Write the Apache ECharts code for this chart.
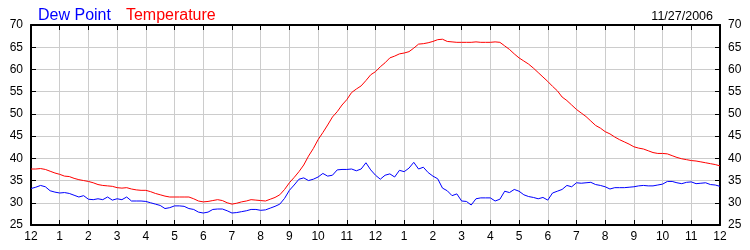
<!DOCTYPE html>
<html><head><meta charset="utf-8">
<script src="https://cdn.jsdelivr.net/npm/echarts@6/dist/echarts.min.js"></script>
<style>html,body{margin:0;padding:0;background:#fff}#c{width:750px;height:250px}</style>
</head><body><div id="c"></div>
<script>
const hourLabels = ['12','1','2','3','4','5','6','7','8','9','10','11','12','1','2','3','4','5','6','7','8','9','10','11','12'];
const yTicks = [25,30,35,40,45,50,55,60,65,70];
// 10-minute readings from midnight to midnight
const temperature = [
37.6,37.6,37.7,37.5,37.1,36.7,
36.4,36.0,35.9,35.5,35.2,35.0,
34.8,34.5,34.1,33.9,33.8,33.7,
33.4,33.3,33.4,33.1,32.9,32.8,
32.8,32.5,32.1,31.8,31.5,31.3,
31.3,31.3,31.3,31.3,30.9,30.4,
30.2,30.3,30.5,30.7,30.5,30.0,
29.7,29.9,30.2,30.4,30.7,30.6,
30.5,30.4,30.8,31.2,31.8,33.0,
34.5,35.7,37.0,38.5,40.5,42.2,
44.2,45.8,47.5,49.3,50.5,52.0,
53.2,54.8,55.6,56.3,57.5,58.8,
59.5,60.6,61.5,62.6,63.0,63.5,
63.7,64.0,64.8,65.7,65.8,66.0,
66.3,66.7,66.8,66.3,66.2,66.1,
66.1,66.1,66.1,66.2,66.1,66.1,
66.1,66.2,66.1,65.3,64.5,63.5,
62.6,61.9,61.2,60.3,59.3,58.3,
57.3,56.2,55.2,53.8,53.0,52.0,
51.0,50.2,49.4,48.4,47.4,46.8,
46.0,45.5,44.8,44.2,43.7,43.2,
42.6,42.3,42.1,41.7,41.3,41.1,
41.1,41.0,40.6,40.2,39.9,39.7,
39.5,39.4,39.2,39.0,38.8,38.6,
38.3];
const dewPoint = [
33.2,33.5,33.9,33.6,32.7,32.4,
32.2,32.3,32.1,31.7,31.3,31.6,
30.8,30.7,30.9,30.7,31.3,30.6,
30.9,30.7,31.3,30.4,30.4,30.4,
30.3,30.0,29.7,29.4,28.7,28.9,
29.3,29.3,29.2,28.7,28.5,27.9,
27.7,27.9,28.5,28.6,28.6,28.2,
27.7,27.8,28.0,28.2,28.5,28.5,
28.3,28.4,28.8,29.2,29.7,31.0,
32.8,34.0,35.3,35.6,35.0,35.3,
35.8,36.6,36.0,36.2,37.4,37.5,
37.5,37.6,37.2,37.6,39.0,37.4,
36.2,35.3,36.2,36.5,35.8,37.3,
37.0,37.8,39.1,37.6,38.0,36.8,
36.0,35.4,33.3,32.7,31.6,32.0,
30.4,30.3,29.5,30.9,31.1,31.1,
31.1,30.4,30.8,32.6,32.3,33.0,
32.6,31.8,31.4,31.2,30.9,31.2,
30.6,32.2,32.6,33.0,33.9,33.6,
34.5,34.4,34.5,34.6,34.1,33.9,
33.6,33.1,33.4,33.4,33.4,33.5,
33.6,33.8,33.9,33.8,33.8,34.0,
34.2,34.8,34.8,34.5,34.3,34.6,
34.7,34.3,34.4,34.5,34.1,34.0,
33.7];
const dateText = '11/27/2006';

const times = temperature.map((_, i) => i);
const onHour = (i) => i % 6 === 0;
const font = 'Arial, "Liberation Sans", sans-serif';

const chart = echarts.init(document.getElementById('c'));
const xBase = {
  type: 'category', data: times, boundaryGap: false,
  axisLine: { show: true, lineStyle: { color: '#000', width: 2 } },
  axisTick: { show: true, inside: true, length: 5, interval: (i) => onHour(i), lineStyle: { color: '#000' } }
};
const yBase = {
  type: 'value', min: yTicks[0], max: yTicks[yTicks.length - 1], interval: 5,
  axisLine: { show: true, lineStyle: { color: '#000', width: 2 } },
  axisTick: { show: true, inside: true, length: 5, lineStyle: { color: '#000' } },
  axisLabel: { color: '#000', fontSize: 12, fontFamily: font, margin: 8 }
};
chart.setOption({
  animation: false,
  backgroundColor: '#fff',
  title: [{
    text: '{a|Dew Point}   {b|Temperature}', left: 33, top: 2,
    textStyle: { fontWeight: 'normal', rich: {
      a: { color: '#0000ff', fontSize: 16, fontWeight: 'normal', fontFamily: font },
      b: { color: '#ff0000', fontSize: 16, fontWeight: 'normal', fontFamily: font }
    } }
  }, {
    text: dateText, right: 32, top: 5,
    textStyle: { color: '#000', fontSize: 12.5, fontWeight: 'normal', fontFamily: font }
  }],
  grid: { left: 31, right: 30, top: 25, bottom: 25, containLabel: false },
  xAxis: [
    Object.assign({}, xBase, {
      position: 'bottom',
      axisLabel: { interval: (i) => onHour(i), formatter: (v, i) => hourLabels[i / 6], color: '#000', fontSize: 12, fontFamily: font, margin: 6 },
      splitLine: { show: true, interval: (i) => onHour(i), lineStyle: { color: '#cccccc', width: 1 } }
    }),
    Object.assign({}, xBase, {
      position: 'top',
      axisLabel: { show: false },
      splitLine: { show: false }
    })
  ],
  yAxis: [
    Object.assign({}, yBase, { position: 'left', splitLine: { show: true, lineStyle: { color: '#cccccc', width: 1 } } }),
    Object.assign({}, yBase, { position: 'right', splitLine: { show: false } })
  ],
  series: [
    { name: 'Dew Point', type: 'line', data: dewPoint, xAxisIndex: 0, yAxisIndex: 0, showSymbol: false, lineStyle: { color: '#0000ff', width: 1 }, itemStyle: { color: '#0000ff' } },
    { name: 'Temperature', type: 'line', data: temperature, xAxisIndex: 0, yAxisIndex: 0, showSymbol: false, lineStyle: { color: '#ff0000', width: 1 }, itemStyle: { color: '#ff0000' } }
  ]
});
</script></body></html>
